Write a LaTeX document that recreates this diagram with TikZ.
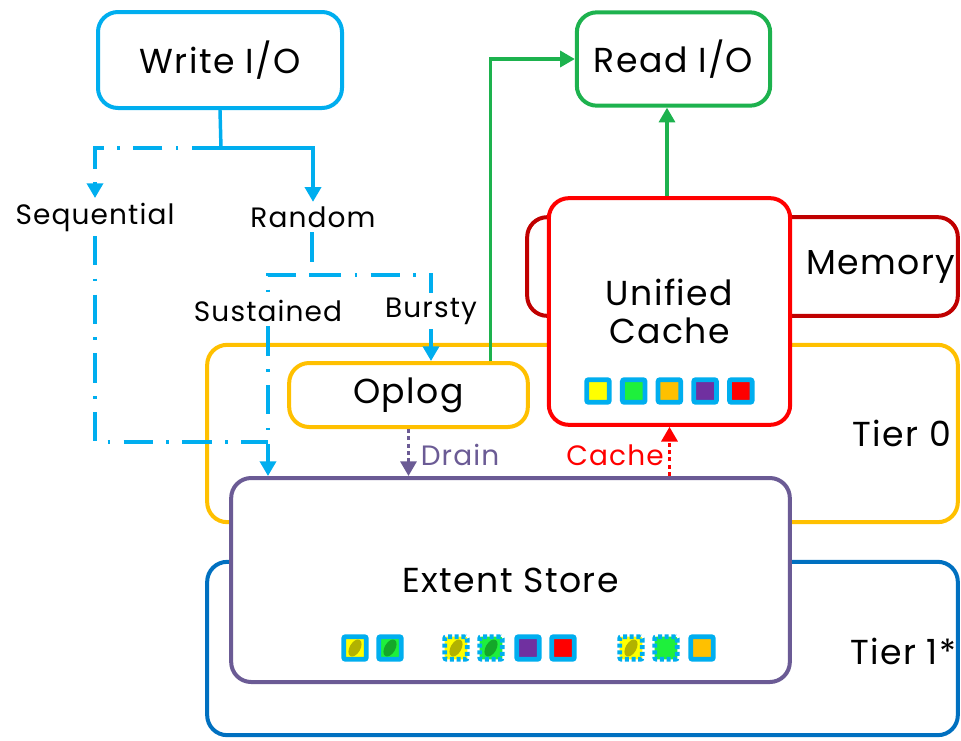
\documentclass[tikz,border=0pt]{standalone}
\usepackage{fontspec}
\setmainfont{Poppins}[LetterSpace=4]
\usetikzlibrary{arrows.meta}

\definecolor{wcyan}{HTML}{00AEEF}
\definecolor{rgreen}{HTML}{1DB24E}
\definecolor{memred}{HTML}{C00000}
\definecolor{cachered}{HTML}{FF0000}
\definecolor{tieryel}{HTML}{FFC000}
\definecolor{extpurple}{HTML}{6B5B95}
\definecolor{tierblue}{HTML}{0070C0}
\definecolor{sqy}{HTML}{FFFF00}
\definecolor{sqg}{HTML}{1EF03C}
\definecolor{sqo}{HTML}{FFC000}
\definecolor{sqp}{HTML}{7030A0}
\definecolor{sqr}{HTML}{FF0000}

\tikzset{
  box/.style={draw, line width=3pt, rounded corners=15pt, fill=white, inner sep=0pt},
  bigtxt/.style={font=\fontsize{26}{31}\selectfont},
  smalltxt/.style={font=\fontsize{21}{25}\selectfont},
  wdash/.style={wcyan, line width=2.6pt, dash pattern=on 22pt off 10pt on 2pt off 10pt},
  tip/.style={-{Triangle[length=11pt,width=12pt]}},
  sqbox/.style={draw=wcyan, line width=3.6pt, minimum size=17pt, inner sep=0pt, rounded corners=1.5pt},
  sqdash/.style={sqbox, dash pattern=on 3pt off 2pt},
}

\begin{document}
\begin{tikzpicture}[x=0.75pt, y=-0.75pt]
			%%%%% START %%%%%
			\useasboundingbox (0,0) rectangle (961,740);
			
			% tiers
			\node[box, draw=tierblue, minimum width=563pt, minimum height=130pt] (tier1) at (582.5,648.5) {};
			\node[box, draw=tieryel, minimum width=563pt, minimum height=133pt] (tier0) at (582.5,433.5) {};
			\node[box, draw=memred, minimum width=323pt, minimum height=74pt] (mem) at (742.5,266.5) {};
			
			\node[bigtxt] (tier1lbl) at (903,651) {Tier 1*};
			\node[bigtxt] (tier0lbl) at (902,433) {Tier 0};
			\node[bigtxt] (memlbl) at (881,267) {Memory};
			
			% stores
			\node[box, draw=extpurple, minimum width=419pt, minimum height=153pt, bigtxt] (extent) at (510.5,580) {Extent Store};
			\node[box, draw=cachered, minimum width=181pt, minimum height=170pt, bigtxt, align=center] (cache) at (669.5,311.5) {Unified\\[-2pt]Cache};
			\node[box, draw=tieryel, minimum width=179pt, minimum height=48pt, bigtxt] (oplog) at (408.5,395) {Oplog};
			
			\node[box, draw=wcyan, minimum width=183pt, minimum height=72pt, bigtxt] (write) at (220,60) {Write I/O};
			\node[box, draw=rgreen, minimum width=145pt, minimum height=70pt, bigtxt] (read) at (673.5,59) {Read I/O};
			
			% cache blocks
			\foreach \c [count=\i] in {sqy,sqg,sqo,sqp,sqr}
				\node[sqbox, fill=\c] (cb\i) at ({598+35.7*(\i-1)},391) {};
			
			% extent blocks
			\foreach \xx/\c/\brd/\lf [count=\i] in {355/sqy/sqbox/1, 390/sqg/sqbox/1, 456/sqy/sqdash/1, 491/sqg/sqdash/1, 528/sqp/sqbox/0, 563/sqr/sqbox/0, 631/sqy/sqdash/1, 666/sqg/sqdash/0, 702/sqo/sqbox/0}{
				\node[\brd, fill=\c] (eb\i) at (\xx,648) {};
				\ifnum\lf=1
					\fill[black, opacity=0.3, rotate around={60:(eb\i)}] (eb\i) ellipse (7pt and 4pt);
				\fi
			}
			
			% write path
			\node[smalltxt] (seq) at (95,217) {Sequential};
			\node[smalltxt] (rnd) at (313,217) {Random};
			\node[smalltxt] (sus) at (268,311) {Sustained};
			\node[smalltxt] (bur) at (431,311) {Bursty};
			\coordinate (split) at (221,148);
			\coordinate (rsplit) at (312,275);
			\coordinate (merge) at (268,442);
			
			\draw[wcyan, line width=2.6pt] (write.south) -- (split);
			\draw[wdash, tip] (split) -| (seq.north);
			\draw[wcyan, line width=2.6pt, tip] (split) -| (rnd.north);
			\draw[wdash] (rnd.south -| rsplit) -- (rsplit) -| (sus.north);
			\draw[wdash] (rsplit) -| (bur.north);
			\draw[wdash] (seq.south) |- (merge);
			\draw[wdash, tip] (sus.south) -- (sus.south |- extent.north);
			\draw[wcyan, line width=2.6pt, tip] (bur.south) -- (bur.south |- oplog.north);
			
			% read path
			\draw[rgreen, line width=2.4pt, tip] ([xshift=61.5pt]oplog.north) |- (read.west);
			\draw[rgreen, line width=2.4pt, tip] (cache.north -| 667,0) -- (read.south -| 667,0);
			
			% drain / cache
			\draw[extpurple, line width=2.4pt, dash pattern=on 3pt off 2.5pt, tip] (oplog.south) -- (oplog.south |- extent.north);
			\node[smalltxt, text=extpurple] (drainlbl) at (460,455) {Drain};
			\draw[cachered, line width=2.4pt, dash pattern=on 3pt off 2.5pt, tip] (cache.south |- extent.north) -- (cache.south);
			\node[smalltxt, text=cachered] (cachelbl) at (615,455) {Cache};
			
			%%%%% END %%%%%
		\end{tikzpicture}
\end{document}
